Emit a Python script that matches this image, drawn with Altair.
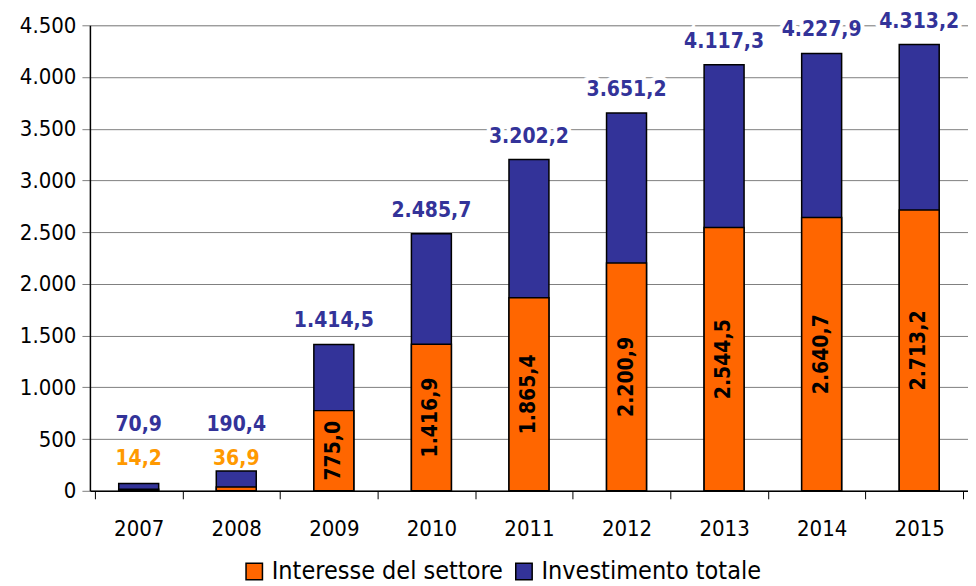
import altair as alt
import pandas as pd

years = ["2007", "2008", "2009", "2010", "2011", "2012", "2013", "2014", "2015"]
totale = [70.9, 190.4, 1414.5, 2485.7, 3202.2, 3651.2, 4117.3, 4227.9, 4313.2]
interesse = [14.2, 36.9, 775.0, 1416.9, 1865.4, 2200.9, 2544.5, 2640.7, 2713.2]
series_names = ["Interesse del settore", "Investimento totale"]
colors = ["#FF6600", "#333399"]

FONT = "DejaVu Sans Condensed, DejaVu Sans"


def it_fmt(v):
    s = f"{v:,.1f}"
    return s.replace(",", "X").replace(".", ",").replace("X", ".")


rows = []
for y, t, i in zip(years, totale, interesse):
    rows.append({"anno": y, "serie": series_names[1], "valore": t, "ord": 0})
for y, t, i in zip(years, totale, interesse):
    rows.append({"anno": y, "serie": series_names[0], "valore": i, "ord": 1})
bars_df = pd.DataFrame(rows)

lab_df = pd.DataFrame({
    "anno": years,
    "totale": totale,
    "interesse": interesse,
    "tot_lab": [it_fmt(v) for v in totale],
    "int_lab": [it_fmt(v) for v in interesse],
})

x_enc = alt.X("anno:N", title=None,
              axis=alt.Axis(labelAngle=0, tickBand="extent", tickSize=8,
                            tickColor="black", domainColor="black", domainWidth=1.5,
                            labelFont=FONT, labelFontSize=22, labelColor="black",
                            labelPadding=20, grid=False))

y_scale = alt.Scale(domain=[0, 4500], nice=False)

bars = alt.Chart(bars_df).mark_bar(size=40, stroke="black", strokeWidth=1.5).encode(
    x=x_enc,
    y=alt.Y("valore:Q", stack=None, scale=y_scale, title=None,
            axis=alt.Axis(values=list(range(0, 5000, 500)), tickSize=8,
                          tickColor="#808080", gridColor="#808080", grid=True,
                          domainColor="black", domainWidth=1.5,
                          labelFont=FONT, labelFontSize=22, labelColor="black",
                          labelPadding=6,
                          labelExpr="replace(format(datum.value, ','), ',', '.')")),
    color=alt.Color("serie:N",
                    scale=alt.Scale(domain=series_names, range=colors),
                    legend=alt.Legend(title=None, orient="none", direction="horizontal",
                                      legendX=152, legendY=534,
                                      symbolType="square", symbolSize=270,
                                      symbolStrokeColor="black", symbolStrokeWidth=1.5,
                                      symbolOpacity=1, labelLimit=0,
                                      labelFont=FONT, labelFontSize=25, labelColor="black",
                                      columnPadding=8, labelOffset=5)),
    order=alt.Order("ord:Q"),
)

base = alt.Chart(lab_df).transform_calculate(
    tot_y="datum.interesse < 100 ? 415 : datum.totale",
    int_small_y="305",
    int_mid="datum.interesse / 2",
)

halo_kw = dict(stroke="white", strokeJoin="miter", fontWeight="bold",
               font=FONT, fontSize=21, baseline="middle")

tot_halo = base.mark_text(dy=-23, strokeWidth=8, **halo_kw).encode(
    x="anno:N", y=alt.Y("tot_y:Q", scale=y_scale), text="tot_lab:N")
tot_text = base.mark_text(dy=-23, fontWeight="bold", font=FONT, fontSize=21,
                          baseline="middle", color="#333399").encode(
    x="anno:N", y=alt.Y("tot_y:Q", scale=y_scale), text="tot_lab:N")

small = base.transform_filter("datum.interesse < 100")
int_small_halo = small.mark_text(strokeWidth=4, **halo_kw).encode(
    x="anno:N", y=alt.Y("int_small_y:Q", scale=y_scale), text="int_lab:N")
int_small_text = small.mark_text(fontWeight="bold", font=FONT, fontSize=21,
                                 baseline="middle", color="#FF9900").encode(
    x="anno:N", y=alt.Y("int_small_y:Q", scale=y_scale), text="int_lab:N")

int_in = base.transform_filter("datum.interesse >= 100").mark_text(
    angle=270, fontWeight="bold", font=FONT, fontSize=21, baseline="middle",
    align="center", color="black").encode(
    x="anno:N", y=alt.Y("int_mid:Q", scale=y_scale), text="int_lab:N")

chart = alt.layer(bars, tot_halo, tot_text, int_small_halo, int_small_text, int_in).properties(
    width=879, height=466, padding={"left": 11, "top": 2, "right": 0, "bottom": 0}
).configure_view(stroke=None).configure(background="white")

chart.save("out.html", embed_options={"renderer": "svg", "actions": False})
